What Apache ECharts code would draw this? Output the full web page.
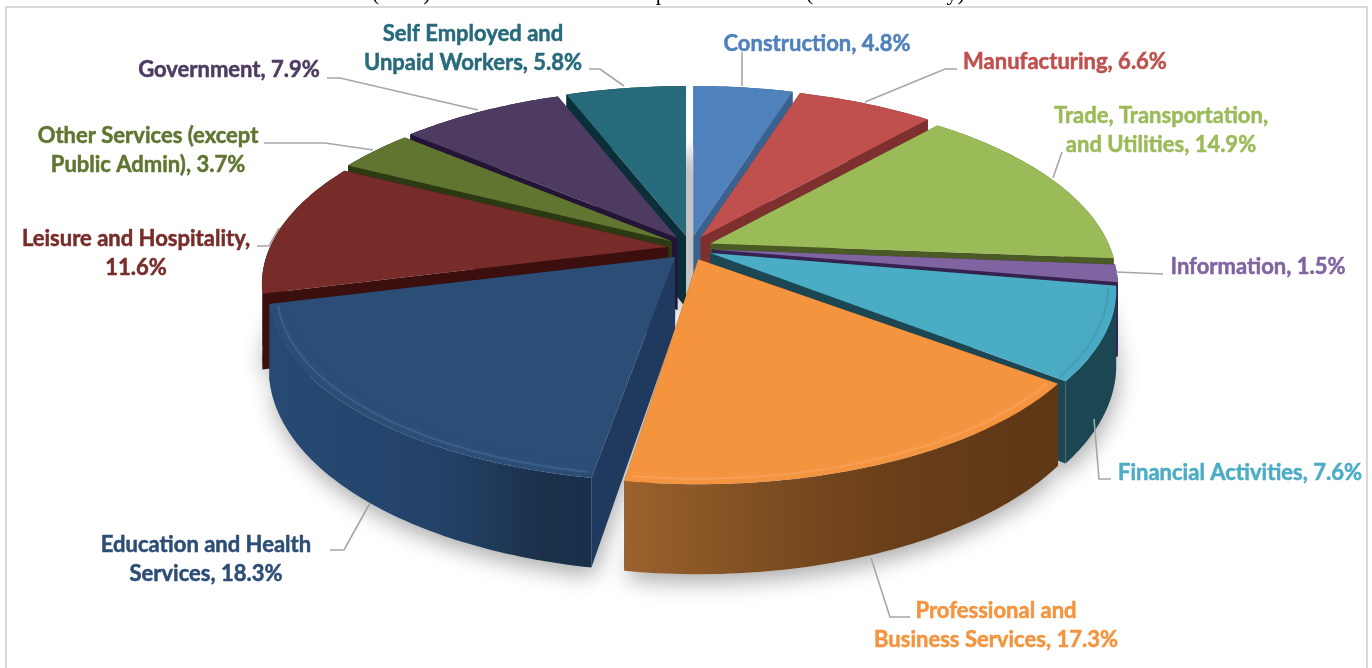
<!DOCTYPE html>
<html><head><meta charset="utf-8">
<style>html,body{margin:0;padding:0;background:#fff;overflow:hidden}#c{width:1372px;height:668px}</style>
<script src="https://cdn.jsdelivr.net/npm/echarts@6/dist/echarts.min.js"></script>
</head><body><div id="c"></div>
<script>
const sectors = ['Construction','Manufacturing','Trade, Transportation,\nand Utilities','Information','Financial Activities','Professional and\nBusiness Services','Education and Health\nServices','Leisure and Hospitality,\n','Other Services (except\nPublic Admin)','Government','Self Employed and\nUnpaid Workers'];
const shares = [4.8,6.6,14.9,1.5,7.6,17.3,18.3,11.6,3.7,7.9,5.8];
const topColors = ['#4F81BD','#C0504D','#9BBB59','#8064A2','#4BACC6','#F4943F','#2C4D75','#772C2A','#5F7530','#4D3B62','#276A7C'];
const wallColors = ['#3A6290','#7D302E','#4A5A25','#35224F','#1C4652','#6A3F1A','#1F3A5E','#3A0F0E','#2C3A13','#241538','#0B2F38'];
const labelPos = [[817,44],[1065,62],[1161,130],[1258,267],[1240,473],[996,625],[206,559],[136,253],[148,150],[229,70],[473,48]];
const leaders = [
 [[742,52],[742,86]],
 [[957,69],[945,69],[865,102]],
 [[1062,152],[1053,178]],
 [[1163,274],[1116,272]],
 [[1111,479],[1099,479],[1094,419]],
 [[910,617],[890,617],[871,558]],
 [[330,550],[344,550],[370,503]],
 [[257,246],[269,246],[279,228]],
 [[264,143],[325,143],[373,150]],
 [[327,78],[340,78],[478,110]],
 [[589,69],[600,69],[624,86]]
];
const sweepNudge = [0,0,0,0,0.02,-0.02,0,0,0,0,0];
const CX=690, CY=248, RX=398, RY=180, AX=0.2, AY=0.2, DEPTH=72, EXPLODE=22, EXPLODE_Y=0.55;
const total = shares.reduce((a,b)=>a+b,0);
function project(theta, r, z, off){
  const u=r*Math.sin(theta), v=r*Math.cos(theta);
  const px=1/(1+AX*v), py=1/(1+AY*v);
  return [CX+off[0]+RX*u*px, CY+off[1]-RY*v*py+z*DEPTH*py];
}
function arc(a0,a1,r,z,off){
  const pts=[], n=Math.max(6,Math.ceil((a1-a0)*60));
  for(let i=0;i<=n;i++) pts.push(project(a0+(a1-a0)*i/n,r,z,off));
  return pts;
}
const gradients = {
  5: [[0,'#9A622D'],[0.35,'#7C4C20'],[0.6,'#6A3F1A'],[1,'#5E3715']],
  6: [[0,'#264A74'],[0.55,'#234268'],[0.85,'#1B3049'],[1,'#1A2F4B']]
};
const rims = {4:'rgba(58,142,166,0.45)',5:'rgba(250,170,105,0.5)',6:'rgba(64,108,156,0.6)'};
const depthOrder = shares.map((s,i)=>{
  const before = shares.slice(0,i).reduce((a,b)=>a+b,0);
  return {i, c:Math.cos((before+s/2)/total*2*Math.PI)};
}).sort((a,b)=>b.c-a.c).map(o=>o.i);

function renderItem(params, api){
  const i=params.dataIndex, value=api.value(0);
  const before=shares.slice(0,i).reduce((a,b)=>a+b,0);
  const a0=before/total*2*Math.PI, a1=(before+value)/total*2*Math.PI+sweepNudge[i], m=(a0+a1)/2;
  const off=[EXPLODE*Math.sin(m), -EXPLODE*EXPLODE_Y*Math.cos(m)];
  const rank=depthOrder.indexOf(i)*10+10;
  const topArc=arc(a0,a1,1,0,off), botArc=arc(a0,a1,1,1,off);
  const apexT=project(0,0,0,off), apexB=project(0,0,1,off);
  const outline=[apexT].concat(topArc);
  const kids=[];
  kids.push({type:'polygon',z2:1,shape:{points:[apexB].concat(botArc)},
    style:{fill:'#dddddd',shadowBlur:22,shadowColor:'rgba(0,0,0,0.33)',shadowOffsetY:8,shadowOffsetX:2}});
  const wc=wallColors[i];
  kids.push({type:'polygon',z2:rank,shape:{points:[apexT,topArc[0],botArc[0],apexB]},style:{fill:wc}});
  kids.push({type:'polygon',z2:rank,shape:{points:[apexT,topArc[topArc.length-1],botArc[botArc.length-1],apexB]},style:{fill:wc}});
  let fill=wc;
  if(gradients[i]) fill=new echarts.graphic.LinearGradient(0,0,1,0,gradients[i].map(s=>({offset:s[0],color:s[1]})));
  kids.push({type:'polygon',z2:rank+1,shape:{points:topArc.concat(botArc.slice().reverse())},style:{fill:fill}});
  kids.push({type:'polygon',z2:rank+2,shape:{points:outline},style:{fill:topColors[i]}});
  if(rims[i]) kids.push({type:'polyline',z2:rank+3,shape:{points:arc(a0+0.012,a1-0.012,0.98,0,off)},
    style:{fill:null,stroke:rims[i],lineWidth:2,shadowBlur:9,shadowColor:rims[i]}});
  kids.push({type:'polyline',z2:500,shape:{points:leaders[i]},style:{fill:null,stroke:'#A6A6A6',lineWidth:1.6}});
  const raw=sectors[i];
  const txt = raw.endsWith('\n') ? raw+value.toFixed(1)+'%' : raw+', '+value.toFixed(1)+'%';
  kids.push({type:'text',z2:501,x:labelPos[i][0],y:labelPos[i][1],
    style:{text:txt,fill:topColors[i],stroke:topColors[i],lineWidth:0.5,font:'bold 22px Lato, "Open Sans", sans-serif',align:'center',verticalAlign:'middle',lineHeight:29}});
  return {type:'group',children:kids};
}
const serif='22px "Liberation Serif", serif';
const chart=echarts.init(document.getElementById('c'),null,{renderer:'canvas'});
chart.setOption({
  animation:false,
  graphic:[
    {type:'rect',z:-1,shape:{x:6,y:7,width:1361,height:700},style:{fill:'#fff',stroke:'#D9D9D9',lineWidth:2}},
    {type:'text',z:1,x:372,y:-17,style:{text:'(BEA) Total Industrial',fill:'#000',font:serif}},
    {type:'text',z:1,x:613,y:-17,style:{text:'Composition Sectors',fill:'#000',font:serif}},
    {type:'text',z:1,x:806,y:-17,style:{text:'(Share of County)',fill:'#000',font:serif}}
  ],
  series:[{type:'custom',coordinateSystem:'none',renderItem:renderItem,
    data:shares.map((s,i)=>({name:sectors[i],value:[s]}))}]
});
</script></body></html>
